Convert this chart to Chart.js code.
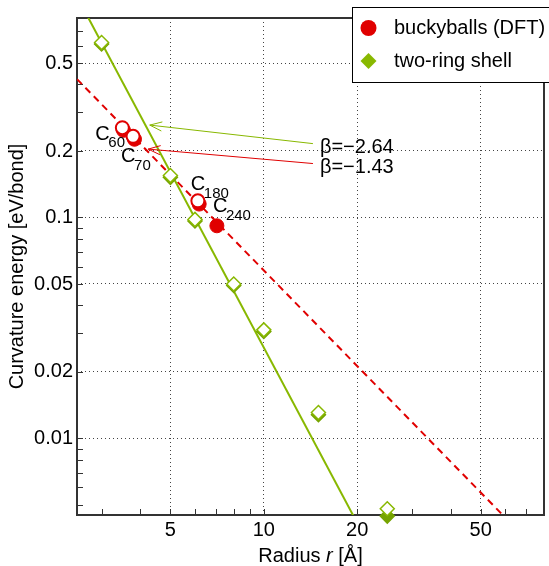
<!DOCTYPE html>
<html>
<head>
<meta charset="utf-8">
<script src="https://cdn.jsdelivr.net/npm/chart.js@4"></script>
<style>
  html, body { margin: 0; padding: 0; background: #fff; }
</style>
</head>
<body>
<canvas id="c" width="549" height="566"></canvas>
<script>
// Curvature energy vs radius, log-log, two series + power-law fits.

const FONT = "'Liberation Sans', Arial, Helvetica, sans-serif";
const RED = '#e00000';
const GREEN = '#88b800';
const GREEN_DARK = '#76a400';
const AXIS = '#333';

// axes
const X_MIN = 2.5, X_MAX = 80;
const Y_MIN = 0.0045, Y_MAX = 0.8;
const xTicks = [3, 4, 5, 6, 7, 8, 9, 10, 20, 30, 40, 50, 60, 70];
const xLabeled = [5, 10, 20, 50];
const yTicks = [0.005, 0.006, 0.007, 0.008, 0.009,
  0.01, 0.02, 0.03, 0.04, 0.05, 0.06, 0.07, 0.08, 0.09,
  0.1, 0.2, 0.3, 0.4, 0.5, 0.6, 0.7];
const yLabeled = [0.01, 0.02, 0.05, 0.1, 0.2, 0.5];

// buckyballs (DFT): open rings on top, filled dots just behind
const seriesNames = ['buckyballs (DFT)', 'two-ring shell'];
const buckySub = ['60', '70', '180', '240'];
const buckyR = [3.5, 3.79, 6.13, 7.06];
const buckyE = [0.255, 0.233, 0.119, 0.0917];
const buckyFillR = [3.53, 3.83, 6.19, 7.06];
const buckyFillE = [0.248, 0.226, 0.115, 0.0917];

// two-ring shell
const shellR = [3, 5, 6, 8, 10, 15, 25];
const shellE = [0.62, 0.155, 0.098, 0.050, 0.031, 0.0131, 0.0048];
const shellFillE = [0.61, 0.152, 0.0965, 0.0492, 0.0305, 0.0128, 0.00445];

// power-law fit lines (end points)
const fitShellR = [2.5, 20];
const fitShellE = [1.0, 0.00414];
const fitBuckyR = [2.5, 60];
const fitBuckyE = [0.423, 0.00438];

// slope annotations: arrow tail -> tip, in data units
const betaText = ['β=\u22122.64', 'β=\u22121.43'];
const betaColor = [GREEN, RED];
const arrowTipR = [4.29, 4.24];
const arrowTipE = [0.262, 0.204];
const arrowTailR = [14.4, 14.4];
const arrowTailE = [0.216, 0.1755];

// label offsets (px) from a point centre to the "C" baseline-left
const cOffsets = [[-27, 12], [-12, 26], [-7, -11], [-4, -14]];

function pts(xs, ys) { return xs.map((v, i) => ({ x: v, y: ys[i] })); }

function arrow(ctx, x0, y0, x1, y1, color) {
  const ang = Math.atan2(y1 - y0, x1 - x0);
  const L = 13, W = 0.36;
  ctx.strokeStyle = color;
  ctx.lineWidth = 1;
  ctx.beginPath();
  ctx.moveTo(x0, y0);
  ctx.lineTo(x1, y1);
  ctx.moveTo(x1 - L * Math.cos(ang - W), y1 - L * Math.sin(ang - W));
  ctx.lineTo(x1, y1);
  ctx.lineTo(x1 - L * Math.cos(ang + W), y1 - L * Math.sin(ang + W));
  ctx.stroke();
}

const decor = {
  id: 'decor',
  beforeDatasetsDraw(chart) {
    const { ctx, chartArea: a, scales: { x, y } } = chart;
    ctx.save();
    // inward tick marks
    ctx.strokeStyle = AXIS;
    ctx.lineWidth = 1;
    ctx.beginPath();
    xTicks.forEach(v => {
      const px = Math.round(x.getPixelForValue(v)) + 0.5;
      ctx.moveTo(px, a.bottom);
      ctx.lineTo(px, a.bottom - 6);
    });
    yTicks.forEach(v => {
      const py = Math.round(y.getPixelForValue(v)) + 0.5;
      ctx.moveTo(a.left, py);
      ctx.lineTo(a.left + 6, py);
    });
    ctx.stroke();
    // frame
    ctx.lineWidth = 2;
    ctx.strokeRect(a.left, a.top, a.right - a.left, a.bottom - a.top);
    ctx.restore();
  },
  afterDatasetsDraw(chart) {
    const { ctx, scales: { x, y } } = chart;
    ctx.save();
    ctx.fillStyle = '#000';
    ctx.textBaseline = 'alphabetic';
    ctx.textAlign = 'left';

    // C_n labels
    buckySub.forEach((sub, i) => {
      const px = x.getPixelForValue(buckyR[i]) + cOffsets[i][0];
      const py = y.getPixelForValue(buckyE[i]) + cOffsets[i][1];
      ctx.font = '20px ' + FONT;
      ctx.fillText('C', px, py);
      ctx.font = '15px ' + FONT;
      ctx.fillText(sub, px + 13, py + 7.7);
    });

    // slope arrows + text
    betaText.forEach((t, i) => {
      const x0 = x.getPixelForValue(arrowTailR[i]);
      const y0 = y.getPixelForValue(arrowTailE[i]);
      const x1 = x.getPixelForValue(arrowTipR[i]);
      const y1 = y.getPixelForValue(arrowTipE[i]);
      arrow(ctx, x0, y0, x1, y1, betaColor[i]);
      ctx.font = '20px ' + FONT;
      ctx.fillStyle = '#000';
      ctx.fillText(t, x0 + 7, y0 + 9);
    });

    // legend box
    const lx = 352, ly = 7, lw = 210, lh = 75;
    ctx.fillStyle = '#fff';
    ctx.fillRect(lx, ly, lw, lh);
    ctx.strokeStyle = '#000';
    ctx.lineWidth = 1;
    ctx.strokeRect(lx + 0.5, ly + 0.5, lw, lh);

    ctx.fillStyle = RED;
    ctx.beginPath();
    ctx.arc(lx + 16.5, ly + 21, 8, 0, Math.PI * 2);
    ctx.fill();

    const dx = lx + 16.5, dy = ly + 54;
    ctx.fillStyle = GREEN;
    ctx.beginPath();
    ctx.moveTo(dx - 8, dy);
    ctx.lineTo(dx, dy - 8);
    ctx.lineTo(dx + 8, dy);
    ctx.lineTo(dx, dy + 8);
    ctx.closePath();
    ctx.fill();

    ctx.fillStyle = '#000';
    ctx.font = '20px ' + FONT;
    ctx.textBaseline = 'middle';
    ctx.fillText(seriesNames[0], lx + 42, ly + 21);
    ctx.fillText(seriesNames[1], lx + 42, ly + 54);
    ctx.restore();
  },
  afterDraw(chart) {
    // x title with italic r
    const { ctx, chartArea: a } = chart;
    ctx.save();
    ctx.fillStyle = '#000';
    ctx.textBaseline = 'alphabetic';
    ctx.textAlign = 'left';
    const parts = [['Radius ', ''], ['r', 'italic '], [' [\u00c5]', '']];
    let total = 0;
    parts.forEach(p => { ctx.font = p[1] + '20px ' + FONT; total += ctx.measureText(p[0]).width; });
    let cx = (a.left + a.right) / 2 - total / 2;
    parts.forEach(p => {
      ctx.font = p[1] + '20px ' + FONT;
      ctx.fillText(p[0], cx, 562);
      cx += ctx.measureText(p[0]).width;
    });
    ctx.restore();
  }
};

new Chart(document.getElementById('c'), {
  type: 'scatter',
  data: {
    datasets: [
      {
        label: 'two-ring shell (open)',
        data: pts(shellR, shellE),
        pointStyle: 'rectRot', pointRadius: 7, borderWidth: 1.5,
        borderColor: GREEN, backgroundColor: '#fff',
        clip: false, order: 0
      },
      {
        label: 'buckyballs (open)',
        data: pts(buckyR.slice(0, 3), buckyE.slice(0, 3)),
        pointStyle: 'circle', pointRadius: 6.5, borderWidth: 2,
        borderColor: RED, backgroundColor: '#fff',
        clip: false, order: 0
      },
      {
        label: seriesNames[1],
        data: pts(shellR, shellFillE),
        pointStyle: 'rectRot', pointRadius: 7, borderWidth: 1.5,
        borderColor: GREEN_DARK, backgroundColor: GREEN_DARK,
        clip: false, order: 1
      },
      {
        label: seriesNames[0],
        data: pts(buckyFillR, buckyFillE),
        pointStyle: 'circle', pointRadius: 7, borderWidth: 1,
        borderColor: RED, backgroundColor: RED,
        clip: false, order: 1
      },
      {
        label: 'fit shell',
        data: pts(fitShellR, fitShellE),
        showLine: true, pointRadius: 0, borderWidth: 2,
        borderColor: GREEN, order: 2
      },
      {
        label: 'fit bucky',
        data: pts(fitBuckyR, fitBuckyE),
        showLine: true, pointRadius: 0, borderWidth: 2,
        borderColor: RED, borderDash: [7, 5], order: 2
      }
    ]
  },
  options: {
    responsive: false,
    animation: false,
    events: [],
    layout: { autoPadding: false, padding: { left: 0, top: 18, right: 5, bottom: 0 } },
    plugins: { legend: { display: false }, tooltip: { enabled: false } },
    scales: {
      x: {
        type: 'logarithmic',
        min: X_MIN, max: X_MAX,
        afterBuildTicks: s => { s.ticks = xTicks.map(v => ({ value: v })); },
        afterFit: s => { s.height = 51; },
        grid: {
          drawTicks: false,
          lineWidth: 1,
          color: c => (c.tick && xLabeled.includes(c.tick.value)) ? '#444' : 'rgba(0,0,0,0)'
        },
        border: { display: false, dash: [1, 3] },
        ticks: {
          autoSkip: false, maxRotation: 0, padding: 3,
          color: '#000', font: { family: FONT, size: 20 },
          callback: v => xLabeled.includes(v) ? String(v) : ''
        }
      },
      y: {
        type: 'logarithmic',
        min: Y_MIN, max: Y_MAX,
        afterBuildTicks: s => { s.ticks = yTicks.map(v => ({ value: v })); },
        afterFit: s => { s.width = 77; },
        grid: {
          drawTicks: false,
          lineWidth: 1,
          color: c => (c.tick && yLabeled.includes(c.tick.value)) ? '#444' : 'rgba(0,0,0,0)'
        },
        border: { display: false, dash: [1, 3] },
        title: {
          display: true, text: 'Curvature energy [eV/bond]',
          color: '#000', font: { family: FONT, size: 20 },
          padding: { top: 5, bottom: 0 }
        },
        ticks: {
          autoSkip: false, padding: 4,
          color: '#000', font: { family: FONT, size: 20 },
          callback: v => yLabeled.includes(v) ? String(v) : ''
        }
      }
    }
  },
  plugins: [decor]
});
</script>
</body>
</html>
